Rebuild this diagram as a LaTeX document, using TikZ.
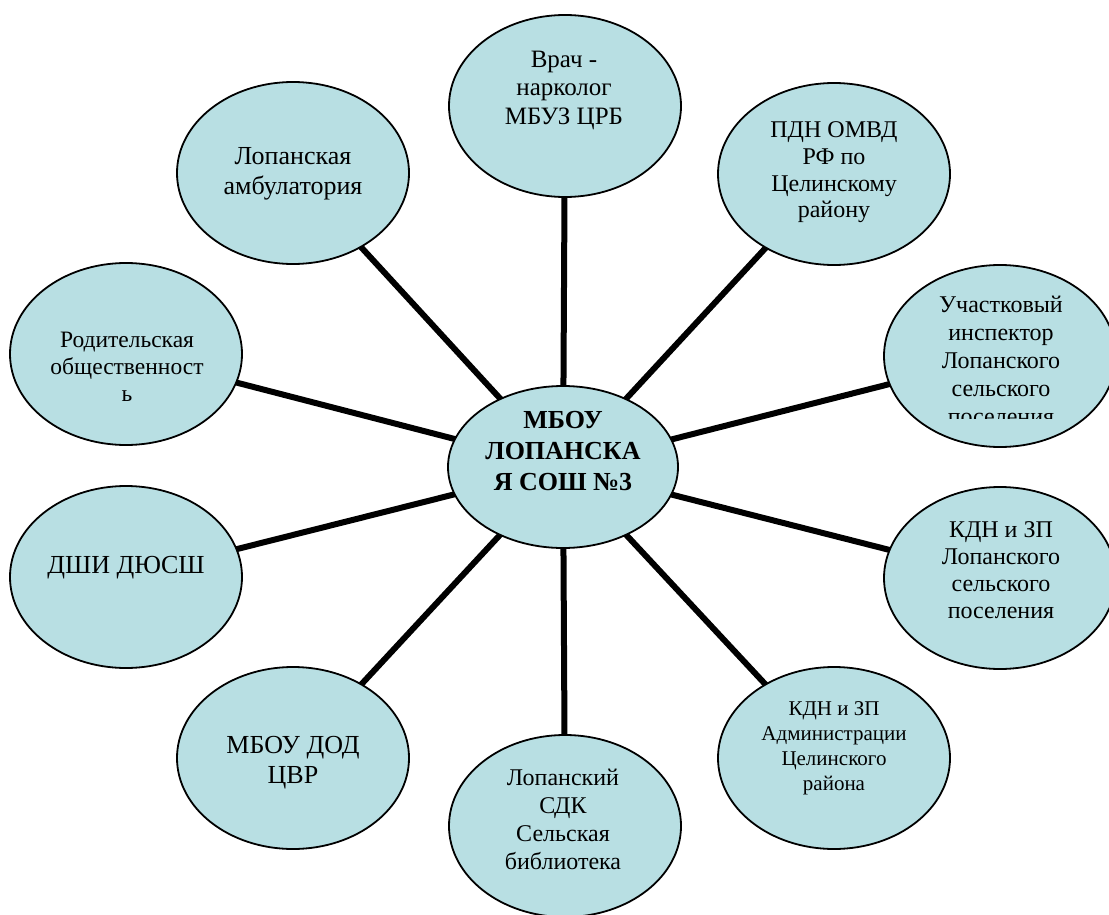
\documentclass[tikz,border=0pt]{standalone}
\usepackage{fontspec}
\setmainfont{Liberation Serif}
\newfontfamily\orgfont{Liberation Serif}
\usetikzlibrary{shapes.geometric,backgrounds}

\definecolor{orgfill}{RGB}{184,223,227}

\tikzset{
  org/.style={ellipse, draw=black, line width=1.8pt, fill=orgfill,
    minimum width=232pt, minimum height=182pt, inner sep=0pt},
  hub/.style={org, minimum width=230pt, minimum height=162pt},
  lbl/.style={anchor=base, align=center, inner sep=0pt,
    font=\orgfont\fontsize{24}{28}\selectfont},
  link/.style={black, line width=6pt}
}

\begin{document}
\begin{tikzpicture}[x=1pt, y=-1pt]
\useasboundingbox (0,0) rectangle (1109,915);

% ellipses
\node[hub] (school) at (563,467) {};
\node[org] (vrach) at (565,106) {};
\node[org] (ambul) at (293,173) {};
\node[org] (pdn) at (834,174) {};
\node[org] (uchast) at (1000,356) {};
\node[org] (kdnlop) at (1000,578) {};
\node[org] (kdnadm) at (834,758) {};
\node[org] (sdk) at (565,826) {};
\node[org] (cvr) at (293,758) {};
\node[org] (dshi) at (126,577) {};
\node[org] (roditel) at (126,354) {};

% links
\begin{scope}[on background layer]
\foreach \n in {vrach,ambul,pdn,uchast,kdnlop,kdnadm,sdk,cvr,dshi,roditel}
  \draw[link] (school.center) -- (\n.center);
\end{scope}

% texts (anchored at the last baseline)
\node[lbl, font=\orgfont\fontsize{26}{31}\selectfont\bfseries] (schooltxt) at (563,490)
  {МБОУ\\ЛОПАНСКА\\Я СОШ №3};
\node[lbl, font=\orgfont\fontsize{25}{29}\selectfont] (vrachtxt) at (564,125)
  {Врач -\\нарколог\\МБУЗ ЦРБ};
\node[lbl, font=\orgfont\fontsize{26}{30}\selectfont] (ambultxt) at (293,195)
  {Лопанская\\амбулатория};
\node[lbl, font=\orgfont\fontsize{24}{27}\selectfont] (pdntxt) at (834,218)
  {ПДН ОМВД\\РФ по\\Целинскому\\району};
\begin{scope}
\clip (880,250) rectangle (1109,418);
\node[lbl] (uchasttxt) at (1001,424)
  {Участковый\\инспектор\\Лопанского\\сельского\\поселения};
\end{scope}
\node[lbl, font=\orgfont\fontsize{24}{27}\selectfont] (kdnloptxt) at (1001,618)
  {КДН и ЗП\\Лопанского\\сельского\\поселения};
\node[lbl, font=\orgfont\fontsize{21}{25}\selectfont] (kdnadmtxt) at (834,790)
  {КДН и ЗП\\Администрации\\Целинского\\района};
\node[lbl] (sdktxt) at (563,869)
  {Лопанский\\СДК\\Сельская\\библиотека};
\node[lbl, font=\orgfont\fontsize{26}{30}\selectfont] (cvrtxt) at (293,783)
  {МБОУ ДОД\\ЦВР};
\node[lbl, font=\orgfont\fontsize{26}{30}\selectfont] (dshitxt) at (126,573)
  {ДШИ ДЮСШ};
\node[lbl, font=\orgfont\fontsize{23.5}{27}\selectfont] (roditeltxt) at (127,401)
  {Родительская\\общественност\\ь};

\end{tikzpicture}
\end{document}
